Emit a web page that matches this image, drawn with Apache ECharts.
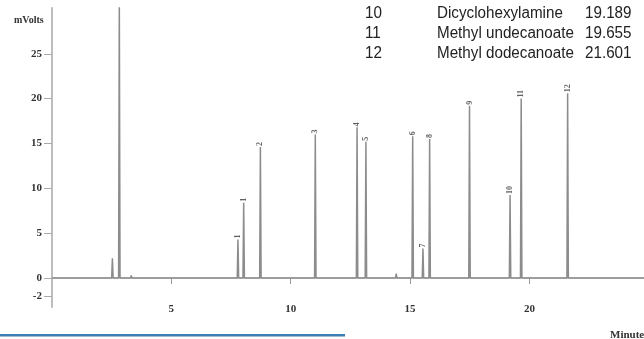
<!DOCTYPE html>
<html>
<head>
<meta charset="utf-8">
<script src="https://cdn.jsdelivr.net/npm/echarts@6/dist/echarts.min.js"></script>
<style>
  html, body { margin: 0; padding: 0; background: #fff; }
  #chart { width: 644px; height: 339px; }
</style>
</head>
<body>
<div id="chart"></div>
<script>
// Retention times (min) and peak heights (mVolts) of the chromatogram
const peakTimes   = [2.53, 2.82, 7.79, 8.03, 8.73, 11.03, 12.78, 13.15, 15.11, 15.54, 15.82, 17.49, 19.189, 19.655, 21.601];
const peakHeights = [2.2, 31.0, 4.3, 8.4, 14.6, 16.0, 16.8, 15.2, 15.8, 3.3, 15.5, 19.2, 9.25, 20.0, 20.6];
const peakLabels  = ['', '', '1', '1', '2', '3', '4', '5', '6', '7', '8', '9', '10', '11', '12'];

// Small baseline disturbances
const blipTimes   = [3.32, 14.42];
const blipHeights = [0.3, 0.5];

// Axis ticks
const xTicks = [5, 10, 15, 20];
const yTicks = [-2, 0, 5, 10, 15, 20, 25];

// Peak identification table
const tableNo   = ['10', '11', '12'];
const tableName = ['Dicyclohexylamine', 'Methyl undecanoate', 'Methyl dodecanoate'];
const tableTime = ['19.189', '19.655', '21.601'];

const X_MAX = 24.8;
const HALF_WIDTH = 0.03;

// Build the detector trace: flat baseline with narrow triangular peaks
function buildTrace() {
  const events = [];
  peakTimes.forEach((t, i) => events.push([t, peakHeights[i]]));
  blipTimes.forEach((t, i) => events.push([t, blipHeights[i]]));
  events.sort((a, b) => a[0] - b[0]);
  const pts = [[0, 0]];
  events.forEach(([t, h]) => {
    pts.push([t - HALF_WIDTH, 0], [t, h], [t + HALF_WIDTH, 0]);
  });
  pts.push([X_MAX, 0]);
  return pts;
}

const labelData = peakTimes
  .map((t, i) => ({ value: [t, peakHeights[i]], name: peakLabels[i] }))
  .filter(d => d.name !== '');

const serif = '"Liberation Serif", "DejaVu Serif", serif';
const sans = '"Liberation Sans", Arial, sans-serif';

// Table rows in the upper right corner
const tableGraphics = [];
tableNo.forEach((n, i) => {
  const top = 6 + 20 * i;
  const st = { fontFamily: sans, fontSize: 16, fill: '#222' };
  tableGraphics.push({ type: 'text', left: 365, top, scaleX: 0.95, style: Object.assign({ text: n }, st) });
  tableGraphics.push({ type: 'text', left: 437, top, scaleX: 0.95, style: Object.assign({ text: tableName[i] }, st) });
  tableGraphics.push({ type: 'text', left: 585, top, scaleX: 0.95, style: Object.assign({ text: tableTime[i] }, st) });
});

const chart = echarts.init(document.getElementById('chart'), null, { renderer: 'canvas' });
chart.setOption({
  animation: false,
  backgroundColor: '#ffffff',
  grid: { left: 52, right: 0, top: 8, bottom: 32, outerBoundsMode: 'none' },
  xAxis: {
    type: 'value',
    min: 0,
    max: X_MAX,
    interval: 5,
    offset: -11,
    axisLine: { show: true, lineStyle: { color: '#c4c4c4', width: 1.5 } },
    axisTick: { show: true, length: 6, customValues: xTicks, lineStyle: { color: '#999', width: 1 } },
    axisLabel: {
      customValues: xTicks, margin: 8,
      fontFamily: serif, fontWeight: 'bold', fontSize: 11, color: '#333'
    },
    splitLine: { show: false }
  },
  yAxis: {
    type: 'value',
    min: -3.23,
    max: 30.1,
    axisLine: { show: true, lineStyle: { color: '#bdbdbd', width: 2 } },
    axisTick: { show: true, length: 8, customValues: yTicks, lineStyle: { color: '#aaa', width: 1 } },
    axisLabel: {
      customValues: yTicks, margin: 10,
      fontFamily: serif, fontWeight: 'bold', fontSize: 11, color: '#333'
    },
    splitLine: { show: false }
  },
  series: [
    {
      type: 'line',
      data: buildTrace(),
      showSymbol: false,
      clip: true,
      lineStyle: { color: '#8c8c8c', width: 1.5 }
    },
    {
      type: 'scatter',
      data: labelData,
      symbolSize: 0,
      label: {
        show: true,
        formatter: p => p.name,
        position: 'top',
        distance: 1,
        rotate: 90,
        align: 'left',
        verticalAlign: 'middle',
        fontFamily: serif,
        fontWeight: 'bold',
        fontSize: 8,
        color: '#3a3a3a'
      }
    }
  ],
  graphic: [
    { type: 'text', left: 14, top: 15, style: { text: 'mVolts', fontFamily: serif, fontWeight: 'bold', fontSize: 10, fill: '#333' } },
    { type: 'text', left: 610, top: 330, style: { text: 'Minutes', fontFamily: serif, fontWeight: 'bold', fontSize: 11, fill: '#333' } },
    { type: 'rect', shape: { x: 0, y: 334, width: 345, height: 2.5 }, style: { fill: '#3d7fb5' } }
  ].concat(tableGraphics)
});
</script>
</body>
</html>
